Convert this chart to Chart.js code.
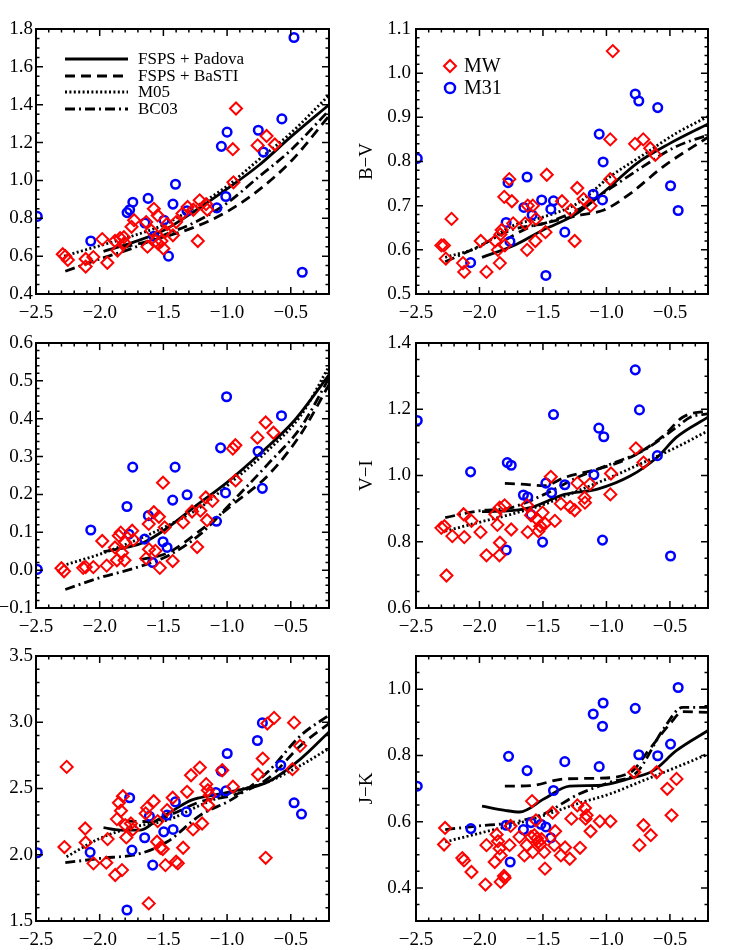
<!DOCTYPE html>
<html>
<head>
<meta charset="utf-8">
<script src="https://cdn.jsdelivr.net/npm/chart.js@4.4.0/dist/chart.umd.min.js"></script>
<style>
  body { margin: 0; background: #fff; width: 729px; height: 950px; position: relative; overflow: hidden; }
  canvas { position: absolute; }
</style>
</head>
<body>
<canvas id="c1"></canvas>
<canvas id="c2"></canvas>
<canvas id="c3"></canvas>
<canvas id="c4"></canvas>
<canvas id="c5"></canvas>
<canvas id="c6"></canvas>
<script>
// ===============================
// DATA (x = [Fe/H], y = colour)
// ===============================
const xTicks = [-2.5, -2.0, -1.5, -1.0, -0.5];
const modelNames = ['FSPS + Padova', 'FSPS + BaSTI', 'M05', 'BC03'];
const sampleNames = ['MW', 'M31'];
const yTitles = ['', 'B\u2212V', '', 'V\u2212I', '', 'J\u2212K'];
const yRanges = [[0.4, 1.8], [0.5, 1.1], [-0.1, 0.6], [0.6, 1.4], [1.5, 3.5], [0.3, 1.1]];
const yTicks = [
    [0.4, 0.6, 0.8, 1.0, 1.2, 1.4, 1.6, 1.8],
    [0.5, 0.6, 0.7, 0.8, 0.9, 1.0, 1.1],
    [-0.1, 0.0, 0.1, 0.2, 0.3, 0.4, 0.5, 0.6],
    [0.6, 0.8, 1.0, 1.2, 1.4],
    [1.5, 2.0, 2.5, 3.0, 3.5],
    [0.4, 0.6, 0.8, 1.0]
];
const yMinor = [0.05, 0.02, 0.02, 0.05, 0.1, 0.05];

// panel 1 (top left)
const p1MW = [[-2.29,0.61],[-2.27,0.60],[-2.25,0.58],[-2.11,0.585],[-2.11,0.545],[-2.05,0.595],[-1.98,0.69],[-1.94,0.565],[-1.88,0.68],[-1.86,0.63],[-1.84,0.695],[-1.81,0.70],[-1.805,0.67],[-1.75,0.755],[-1.73,0.79],[-1.635,0.78],[-1.625,0.65],[-1.595,0.735],[-1.575,0.85],[-1.56,0.68],[-1.545,0.815],[-1.54,0.665],[-1.515,0.68],[-1.50,0.64],[-1.485,0.73],[-1.47,0.77],[-1.425,0.71],[-1.40,0.78],[-1.35,0.825],[-1.31,0.86],[-1.265,0.845],[-1.23,0.68],[-1.215,0.895],[-1.165,0.875],[-1.155,0.845],[-0.95,0.99],[-0.955,1.165],[-0.93,1.38],[-0.76,1.185],[-0.69,1.235],[-0.625,1.19]];
const p1M31 = [[-2.49,0.81],[-2.07,0.68],[-1.785,0.83],[-1.765,0.845],[-1.74,0.885],[-1.62,0.905],[-1.645,0.775],[-1.575,0.705],[-1.495,0.79],[-1.46,0.60],[-1.425,0.875],[-1.405,0.98],[-1.315,0.84],[-1.08,0.855],[-1.045,1.18],[-1.0,1.255],[-1.01,0.915],[-0.755,1.265],[-0.715,1.15],[-0.57,1.325],[-0.475,1.755],[-0.41,0.515]];
const p1Padova = [[-1.97,0.625],[-1.75,0.67],[-1.5,0.735],[-1.25,0.84],[-1.0,0.955],[-0.75,1.08],[-0.5,1.23],[-0.2,1.40]];
const p1BaSTI = [[-1.82,0.645],[-1.5,0.70],[-1.25,0.755],[-1.0,0.835],[-0.75,0.95],[-0.5,1.10],[-0.2,1.34]];
const p1M05 = [[-2.28,0.60],[-2.0,0.655],[-1.75,0.705],[-1.5,0.765],[-1.25,0.86],[-1.0,0.97],[-0.75,1.11],[-0.5,1.25],[-0.2,1.45]];
const p1BC03 = [[-2.27,0.52],[-2.0,0.585],[-1.75,0.64],[-1.5,0.71],[-1.25,0.78],[-1.0,0.88],[-0.75,1.02],[-0.5,1.16],[-0.2,1.37]];

// panel 2 (B-V)
const p2MW = [[-2.30,0.61],[-2.28,0.61],[-2.265,0.58],[-2.22,0.67],[-2.13,0.57],[-2.12,0.55],[-1.99,0.62],[-1.945,0.55],[-1.875,0.62],[-1.855,0.60],[-1.84,0.57],[-1.835,0.635],[-1.825,0.645],[-1.805,0.72],[-1.80,0.61],[-1.765,0.76],[-1.745,0.71],[-1.735,0.66],[-1.64,0.66],[-1.625,0.60],[-1.62,0.70],[-1.58,0.70],[-1.56,0.62],[-1.555,0.67],[-1.48,0.64],[-1.47,0.77],[-1.35,0.71],[-1.28,0.69],[-1.25,0.62],[-1.23,0.74],[-1.18,0.715],[-1.125,0.70],[-0.97,0.76],[-0.97,0.85],[-0.95,1.05],[-0.775,0.84],[-0.71,0.85],[-0.655,0.83],[-0.615,0.815]];
const p2M31 = [[-2.49,0.807],[-2.07,0.571],[-1.79,0.662],[-1.775,0.752],[-1.76,0.619],[-1.65,0.696],[-1.625,0.765],[-1.585,0.679],[-1.51,0.713],[-1.477,0.542],[-1.438,0.692],[-1.417,0.711],[-1.328,0.640],[-1.104,0.726],[-1.057,0.862],[-1.031,0.713],[-1.026,0.799],[-0.773,0.953],[-0.745,0.937],[-0.596,0.922],[-0.495,0.745],[-0.435,0.689]];
const p2Padova = [[-1.98,0.583],[-1.72,0.611],[-1.5,0.645],[-1.25,0.679],[-1.0,0.736],[-0.76,0.796],[-0.5,0.841],[-0.2,0.885]];
const p2BaSTI = [[-1.80,0.622],[-1.6,0.652],[-1.49,0.66],[-1.2,0.679],[-1.02,0.69],[-0.81,0.728],[-0.55,0.789],[-0.2,0.855]];
const p2M05 = [[-2.27,0.583],[-2.01,0.606],[-1.75,0.653],[-1.49,0.675],[-1.23,0.705],[-0.97,0.766],[-0.71,0.815],[-0.45,0.864],[-0.2,0.902]];
const p2BC03 = [[-2.27,0.573],[-2.01,0.607],[-1.75,0.645],[-1.49,0.66],[-1.23,0.69],[-0.97,0.739],[-0.71,0.789],[-0.45,0.834],[-0.2,0.86]];

// panel 3 (middle left)
const p3MW = [[-2.30,0.005],[-2.28,-0.003],[-2.13,0.006],[-2.11,0.008],[-2.05,0.008],[-1.98,0.077],[-1.945,0.012],[-1.88,0.06],[-1.865,0.026],[-1.85,0.091],[-1.835,0.099],[-1.825,0.046],[-1.805,0.026],[-1.80,0.073],[-1.745,0.104],[-1.735,0.08],[-1.635,0.031],[-1.615,0.122],[-1.613,0.055],[-1.575,0.153],[-1.563,0.051],[-1.535,0.141],[-1.528,0.006],[-1.503,0.231],[-1.49,0.113],[-1.427,0.024],[-1.345,0.126],[-1.275,0.155],[-1.235,0.061],[-1.21,0.157],[-1.167,0.192],[-1.157,0.132],[-1.115,0.183],[-0.955,0.321],[-0.935,0.33],[-0.933,0.237],[-0.762,0.35],[-0.697,0.39],[-0.636,0.363]];
const p3M31 = [[-2.49,0.002],[-2.07,0.106],[-1.786,0.168],[-1.77,0.095],[-1.741,0.272],[-1.647,0.082],[-1.618,0.144],[-1.584,0.02],[-1.503,0.075],[-1.471,0.06],[-1.427,0.185],[-1.408,0.272],[-1.314,0.199],[-1.083,0.129],[-1.051,0.323],[-1.012,0.204],[-1.004,0.458],[-0.757,0.314],[-0.723,0.216],[-0.573,0.408]];
const p3Padova = [[-1.97,0.049],[-1.79,0.06],[-1.655,0.073],[-1.5,0.104],[-1.26,0.166],[-1.0,0.232],[-0.74,0.308],[-0.47,0.396],[-0.2,0.516]];
const p3BaSTI = [[-1.68,0.028],[-1.47,0.045],[-1.21,0.105],[-0.95,0.175],[-0.68,0.25],[-0.42,0.36],[-0.2,0.49]];
const p3M05 = [[-2.26,0.015],[-2.0,0.042],[-1.73,0.077],[-1.47,0.117],[-1.21,0.166],[-0.95,0.237],[-0.68,0.316],[-0.42,0.409],[-0.2,0.538]];
const p3BC03 = [[-2.27,-0.051],[-2.0,-0.02],[-1.73,0.005],[-1.47,0.037],[-1.21,0.095],[-0.95,0.184],[-0.68,0.28],[-0.42,0.378],[-0.2,0.507]];

// panel 4 (V-I)
const p4MW = [[-2.30,0.842],[-2.276,0.847],[-2.26,0.698],[-2.214,0.817],[-2.125,0.883],[-2.12,0.814],[-2.063,0.863],[-1.992,0.829],[-1.945,0.759],[-1.875,0.883],[-1.859,0.851],[-1.841,0.903],[-1.839,0.797],[-1.843,0.759],[-1.802,0.91],[-1.75,0.837],[-1.625,0.91],[-1.62,0.829],[-1.594,0.88],[-1.547,0.868],[-1.536,0.832],[-1.521,0.847],[-1.503,0.888],[-1.484,0.855],[-1.438,0.996],[-1.406,0.863],[-1.359,0.915],[-1.286,0.905],[-1.25,0.895],[-1.229,0.977],[-1.172,0.933],[-1.169,0.918],[-1.13,0.974],[-0.969,0.943],[-0.964,1.006],[-0.768,1.082],[-0.708,1.039]];
const p4M31 = [[-2.49,1.166],[-2.07,1.011],[-1.789,0.775],[-1.781,1.039],[-1.75,1.031],[-1.654,0.941],[-1.62,0.935],[-1.594,0.882],[-1.503,0.799],[-1.477,0.977],[-1.432,0.948],[-1.417,1.184],[-1.328,0.972],[-1.099,1.002],[-1.06,1.143],[-1.031,0.805],[-1.021,1.117],[-0.773,1.319],[-0.74,1.198],[-0.599,1.06],[-0.495,0.757]];
const p4Padova = [[-1.98,0.891],[-1.78,0.893],[-1.6,0.903],[-1.33,0.943],[-1.07,0.959],[-0.81,0.999],[-0.6,1.055],[-0.45,1.115],[-0.2,1.176]];
const p4BaSTI = [[-1.80,0.976],[-1.67,0.974],[-1.49,0.969],[-1.33,0.994],[-1.07,1.019],[-0.81,1.055],[-0.55,1.12],[-0.4,1.176],[-0.2,1.196]];
const p4M05 = [[-2.27,0.832],[-2.01,0.858],[-1.75,0.883],[-1.49,0.913],[-1.23,0.953],[-0.97,0.994],[-0.71,1.039],[-0.45,1.085],[-0.2,1.135]];
const p4BC03 = [[-2.27,0.873],[-2.01,0.893],[-1.75,0.903],[-1.49,0.943],[-1.23,0.994],[-0.97,1.034],[-0.71,1.075],[-0.45,1.145],[-0.34,1.176],[-0.2,1.186]];

// panel 5 (bottom left)
const p5MW = [[-2.277,2.058],[-2.259,2.663],[-2.114,2.198],[-2.11,2.093],[-2.049,1.935],[-1.948,1.94],[-1.938,2.118],[-1.878,1.847],[-1.865,2.269],[-1.849,2.392],[-1.833,2.332],[-1.818,2.442],[-1.825,1.884],[-1.799,2.224],[-1.791,2.131],[-1.755,2.236],[-1.739,2.191],[-1.639,2.312],[-1.628,2.354],[-1.615,1.633],[-1.576,2.404],[-1.55,2.098],[-1.545,2.254],[-1.524,2.053],[-1.505,2.043],[-1.484,1.922],[-1.471,2.337],[-1.427,2.43],[-1.40,1.947],[-1.387,1.935],[-1.345,2.053],[-1.314,2.475],[-1.283,2.60],[-1.267,2.191],[-1.214,2.658],[-1.196,2.236],[-1.164,2.533],[-1.151,2.487],[-1.148,2.374],[-1.136,2.45],[-1.038,2.638],[-0.954,2.513],[-0.757,2.606],[-0.72,2.726],[-0.697,1.977],[-0.684,2.99],[-0.631,3.033],[-0.474,2.997],[-0.487,2.646],[-0.427,2.822]];
const p5M31 = [[-2.49,2.015],[-2.075,2.018],[-1.786,1.583],[-1.765,2.43],[-1.747,2.035],[-1.647,2.128],[-1.61,2.291],[-1.584,1.922],[-1.497,2.173],[-1.471,2.299],[-1.424,2.191],[-1.406,2.399],[-1.319,2.324],[-1.088,2.47],[-1.046,2.631],[-1.009,2.482],[-0.999,2.764],[-0.762,2.862],[-0.723,2.995],[-0.579,2.676],[-0.474,2.392],[-0.416,2.307]];
const p5Padova = [[-1.97,2.204],[-1.84,2.186],[-1.68,2.186],[-1.55,2.261],[-1.42,2.337],[-1.28,2.412],[-1.1,2.45],[-0.95,2.48],[-0.68,2.55],[-0.42,2.726],[-0.2,2.927]];
const p5BaSTI = [[-1.79,2.254],[-1.6,2.25],[-1.42,2.312],[-1.21,2.40],[-0.95,2.45],[-0.68,2.575],[-0.42,2.827],[-0.2,2.99]];
const p5M05 = [[-2.26,1.985],[-2.0,2.123],[-1.73,2.211],[-1.47,2.261],[-1.21,2.374],[-0.95,2.475],[-0.68,2.55],[-0.42,2.676],[-0.2,2.802]];
const p5BC03 = [[-2.27,1.94],[-2.0,1.972],[-1.68,2.01],[-1.47,2.098],[-1.21,2.299],[-0.95,2.425],[-0.68,2.626],[-0.42,2.902],[-0.2,3.053]];

// panel 6 (J-K)
const p6MW = [[-2.279,0.531],[-2.271,0.581],[-2.135,0.49],[-2.122,0.483],[-2.063,0.448],[-1.953,0.41],[-1.945,0.529],[-1.88,0.478],[-1.865,0.561],[-1.854,0.541],[-1.841,0.519],[-1.833,0.498],[-1.833,0.418],[-1.807,0.436],[-1.802,0.43],[-1.763,0.529],[-1.755,0.587],[-1.685,0.554],[-1.646,0.498],[-1.628,0.529],[-1.594,0.554],[-1.586,0.662],[-1.581,0.508],[-1.568,0.559],[-1.555,0.604],[-1.547,0.549],[-1.536,0.539],[-1.521,0.531],[-1.511,0.547],[-1.49,0.508],[-1.484,0.458],[-1.424,0.627],[-1.411,0.529],[-1.404,0.571],[-1.359,0.498],[-1.326,0.522],[-1.289,0.488],[-1.276,0.609],[-1.208,0.521],[-1.229,0.649],[-1.169,0.641],[-1.164,0.609],[-1.156,0.619],[-1.125,0.571],[-1.052,0.601],[-0.969,0.601],[-0.781,0.749],[-0.74,0.529],[-0.708,0.589],[-0.651,0.559],[-0.604,0.749],[-0.521,0.699],[-0.487,0.619],[-0.448,0.729]];
const p6M31 = [[-2.49,0.707],[-2.068,0.579],[-1.789,0.589],[-1.771,0.797],[-1.758,0.478],[-1.654,0.576],[-1.625,0.754],[-1.594,0.597],[-1.516,0.592],[-1.477,0.584],[-1.438,0.551],[-1.417,0.694],[-1.328,0.781],[-1.104,0.925],[-1.057,0.766],[-1.026,0.958],[-1.031,0.888],[-0.773,0.942],[-0.745,0.802],[-0.596,0.799],[-0.495,0.834],[-0.435,1.005]];
const p6Padova = [[-1.98,0.647],[-1.8,0.634],[-1.685,0.629],[-1.49,0.669],[-1.29,0.707],[-1.07,0.709],[-0.81,0.731],[-0.63,0.754],[-0.45,0.814],[-0.2,0.875]];
const p6BaSTI = [[-1.8,0.707],[-1.59,0.709],[-1.33,0.729],[-1.07,0.731],[-0.81,0.749],[-0.66,0.819],[-0.5,0.895],[-0.4,0.932],[-0.2,0.93]];
const p6M05 = [[-2.27,0.539],[-2.01,0.564],[-1.75,0.589],[-1.49,0.619],[-1.23,0.654],[-0.97,0.684],[-0.71,0.724],[-0.45,0.764],[-0.2,0.804]];
const p6BC03 = [[-2.27,0.576],[-2.01,0.587],[-1.75,0.597],[-1.49,0.624],[-1.23,0.681],[-0.97,0.719],[-0.76,0.749],[-0.55,0.88],[-0.4,0.945],[-0.2,0.945]];

const panelData = [
    [p1MW, p1M31, p1Padova, p1BaSTI, p1M05, p1BC03],
    [p2MW, p2M31, p2Padova, p2BaSTI, p2M05, p2BC03],
    [p3MW, p3M31, p3Padova, p3BaSTI, p3M05, p3BC03],
    [p4MW, p4M31, p4Padova, p4BaSTI, p4M05, p4BC03],
    [p5MW, p5M31, p5Padova, p5BaSTI, p5M05, p5BC03],
    [p6MW, p6M31, p6Padova, p6BaSTI, p6M05, p6BC03]
];

// ===============================
// STYLE / LAYOUT
// ===============================
const FONT = "'Liberation Serif', 'DejaVu Serif', serif";
const dashes = [[], [10, 6], [2, 2.4], [10, 4, 2, 4]];
const cols = [
    { left: 0, width: 345, axisW: 36, padR: 16, lblPad: 3 },
    { left: 345, width: 384, axisW: 71, padR: 21, lblPad: 5 }
];
const rows = [{ top: 0 }, { top: 314 }, { top: 627 }];
const CH = 330, PAD_TOP = 29, PLOT_H = 265;
const XAXIS_H = CH - PAD_TOP - PLOT_H;

const toXY = arr => arr.map(p => ({ x: p[0], y: p[1] }));
const fmt = v => (v < -1e-9 ? '\u2212' : '') + Math.abs(v).toFixed(1);

// frame, inward ticks, axis title and legends (IDL look)
const idlFrame = {
    id: 'idlFrame',
    afterDraw(chart, args, o) {
        const ctx = chart.ctx, a = chart.chartArea;
        const xs = chart.scales.x, ys = chart.scales.y;
        ctx.save();
        ctx.strokeStyle = '#000';
        ctx.lineWidth = 1.5;
        ctx.beginPath();
        for (let i = -25; i <= -2; i++) {
            const px = xs.getPixelForValue(i / 10);
            const len = i % 5 === 0 ? 7 : 3.5;
            ctx.moveTo(px, a.bottom); ctx.lineTo(px, a.bottom - len);
            ctx.moveTo(px, a.top); ctx.lineTo(px, a.top + len);
        }
        const n = Math.round((ys.max - ys.min) / o.minor);
        for (let i = 0; i <= n; i++) {
            const v = ys.min + i * o.minor;
            const major = o.majors.some(m => Math.abs(m - v) < 1e-6);
            const py = ys.getPixelForValue(v);
            const len = major ? 7 : 3.5;
            ctx.moveTo(a.left, py); ctx.lineTo(a.left + len, py);
            ctx.moveTo(a.right, py); ctx.lineTo(a.right - len, py);
        }
        ctx.stroke();
        ctx.lineWidth = 2;
        ctx.strokeRect(a.left, a.top, a.right - a.left, a.bottom - a.top);

        ctx.fillStyle = '#000';
        if (o.title) {
            ctx.save();
            ctx.translate(a.left - 49, (a.top + a.bottom) / 2);
            ctx.rotate(-Math.PI / 2);
            ctx.font = '19px ' + FONT;
            ctx.textAlign = 'center';
            ctx.textBaseline = 'middle';
            ctx.fillText(o.title, 0, 0);
            ctx.restore();
        }
        if (o.legend === 'models') {
            const rowsY = [30, 47, 63, 80];
            ctx.font = '17px ' + FONT;
            ctx.textBaseline = 'middle';
            ctx.lineWidth = 2.8;
            modelNames.forEach((name, i) => {
                const y = a.top + rowsY[i];
                ctx.setLineDash(dashes[i]);
                ctx.beginPath();
                ctx.moveTo(a.left + 29, y); ctx.lineTo(a.left + 92, y);
                ctx.stroke();
                ctx.setLineDash([]);
                ctx.fillText(name, a.left + 102, y + 1);
            });
        }
        if (o.legend === 'samples') {
            const cx = a.left + 34, y1 = a.top + 37, y2 = a.top + 59;
            ctx.lineWidth = 2;
            ctx.strokeStyle = '#ff0000';
            ctx.beginPath();
            ctx.moveTo(cx - 6, y1); ctx.lineTo(cx, y1 - 6); ctx.lineTo(cx + 6, y1); ctx.lineTo(cx, y1 + 6);
            ctx.closePath();
            ctx.stroke();
            ctx.lineWidth = 2.5;
            ctx.strokeStyle = '#0000ff';
            ctx.beginPath();
            ctx.arc(cx, y2, 5, 0, Math.PI * 2);
            ctx.stroke();
            ctx.font = '20px ' + FONT;
            ctx.textBaseline = 'middle';
            ctx.fillText(sampleNames[0], a.left + 48, y1 + 1);
            ctx.fillText(sampleNames[1], a.left + 48, y2 + 1);
        }
        ctx.restore();
    }
};

// ===============================
// BUILD THE SIX PANELS
// ===============================
function makePanel(k) {
    const col = cols[k % 2], row = rows[Math.floor(k / 2)];
    const canvas = document.getElementById('c' + (k + 1));
    canvas.width = col.width;
    canvas.height = CH;
    canvas.style.left = col.left + 'px';
    canvas.style.top = row.top + 'px';

    const d = panelData[k];
    const datasets = [
        {
            data: toXY(d[0]), showLine: false, pointStyle: 'rectRot', pointRadius: 6,
            borderColor: '#ff0000', backgroundColor: 'rgba(0,0,0,0)', borderWidth: 2, clip: 0
        },
        {
            data: toXY(d[1]), showLine: false, pointStyle: 'circle', pointRadius: 4.3,
            borderColor: '#0000ff', backgroundColor: 'rgba(0,0,0,0)', borderWidth: 2.5, clip: 0
        }
    ];
    for (let i = 0; i < 4; i++) {
        datasets.push({
            data: toXY(d[2 + i]), showLine: true, pointRadius: 0, borderColor: '#000',
            borderWidth: 2.8, borderDash: dashes[i], cubicInterpolationMode: 'monotone', clip: 0
        });
    }

    new Chart(canvas, {
        type: 'scatter',
        data: { datasets },
        options: {
            responsive: false,
            animation: false,
            events: [],
            layout: { padding: { top: PAD_TOP, right: col.padR, left: 0, bottom: 0 } },
            plugins: {
                legend: { display: false },
                tooltip: { enabled: false },
                idlFrame: {
                    minor: yMinor[k], majors: yTicks[k], title: yTitles[k],
                    legend: k === 0 ? 'models' : (k === 1 ? 'samples' : null)
                }
            },
            scales: {
                x: {
                    type: 'linear', min: -2.5, max: -0.2,
                    grid: { display: false, drawTicks: false }, border: { display: false },
                    ticks: { color: '#000', font: { family: FONT, size: 19 }, padding: 8, maxRotation: 0, autoSkip: false, callback: fmt },
                    afterBuildTicks: s => { s.ticks = xTicks.map(v => ({ value: v })); },
                    afterFit: s => { s.height = XAXIS_H; }
                },
                y: {
                    type: 'linear', min: yRanges[k][0], max: yRanges[k][1],
                    grid: { display: false, drawTicks: false }, border: { display: false },
                    ticks: { color: '#000', font: { family: FONT, size: 19 }, padding: col.lblPad, autoSkip: false, callback: fmt },
                    afterBuildTicks: s => { s.ticks = yTicks[k].map(v => ({ value: v })); },
                    afterFit: s => { s.width = col.axisW; }
                }
            }
        },
        plugins: [idlFrame]
    });
}

for (let k = 0; k < 6; k++) makePanel(k);
</script>
</body>
</html>
